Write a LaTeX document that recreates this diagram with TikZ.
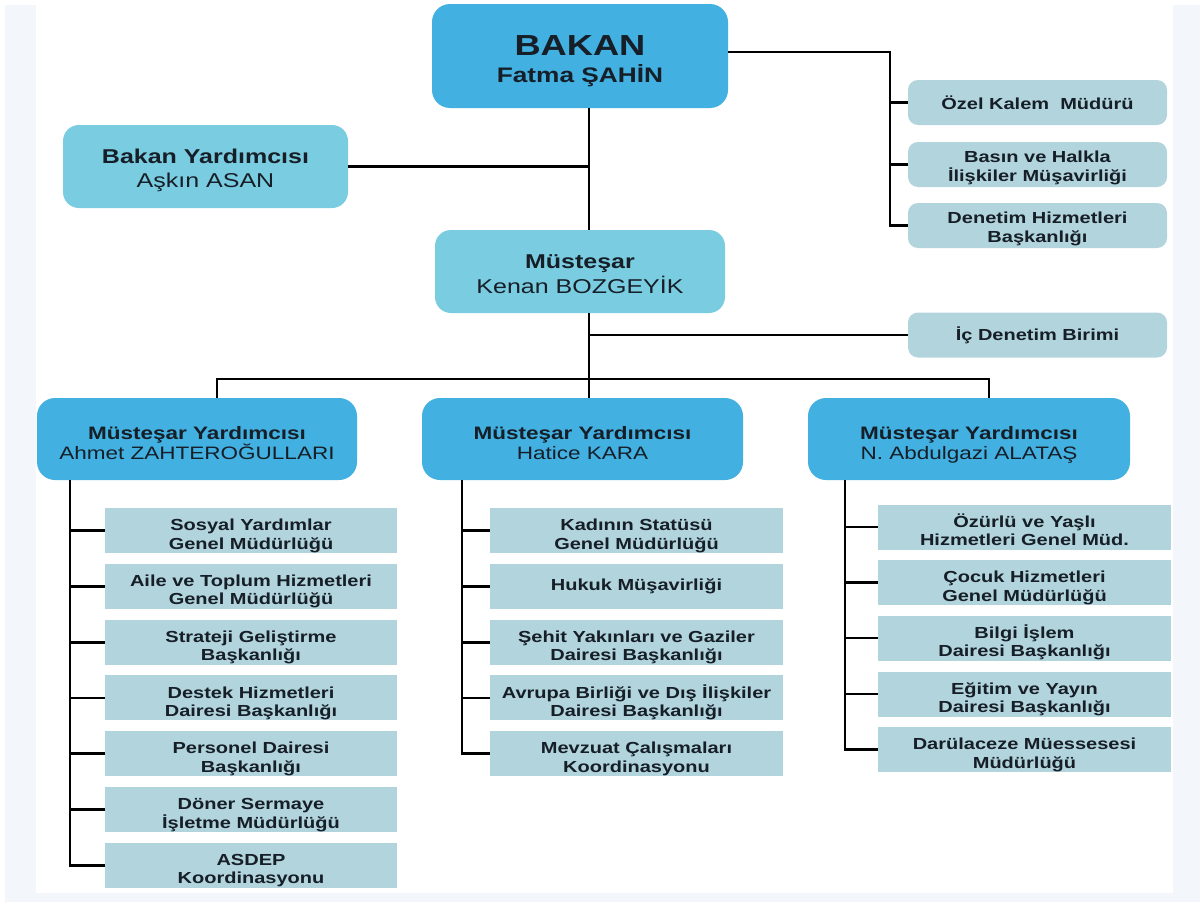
\documentclass[tikz,border=0pt]{standalone}
\usepackage{fontspec}
\setmainfont[FakeStretch=1.25]{Liberation Sans}
\definecolor{chiefblue}{RGB}{66,176,224}
\definecolor{lightcyan}{RGB}{122,205,225}
\definecolor{unitgrey}{RGB}{178,212,220}
\definecolor{pale}{RGB}{243,247,251}
\definecolor{txt}{RGB}{22,30,40}
% two-line text with fixed top strut (#1) and fixed bottom depth (#2)
\newcommand\twoln[4]{\rule{0pt}{#1pt}#3\\#4\rule[-#2pt]{0pt}{#2pt}}
\newcommand\ut[2]{\twoln{22.5}{3.8}{#1}{#2}}
\newcommand\at[2]{\twoln{20.5}{5.6}{#1}{#2}}
\begin{document}
\begin{tikzpicture}[x=1pt,y=-1pt,
  conn/.style={line width=2.8pt, draw=black, line join=miter},
  chief/.style={fill=chiefblue, rounded corners=18pt, inner sep=0pt, align=center, text=txt},
  deputy/.style={fill=lightcyan, rounded corners=16pt, inner sep=0pt, align=center, text=txt},
  myrd/.style={fill=chiefblue, rounded corners=18pt, inner sep=0pt, align=center, text=txt,
    minimum width=321pt, minimum height=82pt, font=\fontsize{18}{20}\selectfont},
  advisor/.style={fill=unitgrey, rounded corners=10pt, inner sep=0pt, align=center, text=txt,
    minimum width=259pt, minimum height=45pt, font=\bfseries\fontsize{16}{18.5}\selectfont},
  unit/.style={fill=unitgrey, inner sep=0pt, align=center, text=txt,
    minimum width=293pt, minimum height=45pt, font=\bfseries\fontsize{16}{18.5}\selectfont}
]
\useasboundingbox (0,0) rectangle (1200,902);
\fill[pale] (5,5) rectangle (1200,902);
\fill[white] (36,0) rectangle (1173,893);

% top level
\node[chief, minimum width=296pt, minimum height=104pt, font=\bfseries\fontsize{21}{27}\selectfont] (bakan) at (580,56)
  {\twoln{30}{5}{{\fontsize{29}{30}\selectfont BAKAN}}{Fatma ŞAHİN}};
\node[deputy, minimum width=285pt, minimum height=83pt, font=\fontsize{20}{24}\selectfont] (byrd) at (205.5,166.5)
  {\twoln{22}{5}{\textbf{Bakan Yardımcısı}}{Aşkın ASAN}};
\node[deputy, minimum width=290pt, minimum height=83pt, font=\fontsize{20}{25}\selectfont] (must) at (580,271.5)
  {\twoln{23}{5}{\textbf{Müsteşar}}{Kenan BOZGEYİK}};

% advisors on the right
\node[advisor] (ozel) at (1037.5,102.5) {Özel Kalem\ \ Müdürü};
\node[advisor] (basin) at (1037.5,164.5) {\at{Basın ve Halkla}{İlişkiler Müşavirliği}};
\node[advisor] (denet) at (1037.5,225.5) {\at{Denetim Hizmetleri}{Başkanlığı}};
\node[advisor] (icd) at (1037.5,335) {İç Denetim Birimi};

% deputy undersecretaries
\node[myrd, minimum width=320pt] (my1) at (197,439) {\twoln{26}{5}{\textbf{Müsteşar Yardımcısı}}{Ahmet ZAHTEROĞULLARI}};
\node[myrd] (my2) at (582.5,439) {\twoln{26}{5}{\textbf{Müsteşar Yardımcısı}}{Hatice KARA}};
\node[myrd, minimum width=322pt] (my3) at (969,439) {\twoln{26}{5}{\textbf{Müsteşar Yardımcısı}}{N. Abdulgazi ALATAŞ}};

% column 1
\node[unit, minimum width=292pt] (a1) at (251,530.5) {\ut{Sosyal Yardımlar}{Genel Müdürlüğü}};
\node[unit, minimum width=292pt] (a2) at (251,586.3) {\ut{Aile ve Toplum Hizmetleri}{Genel Müdürlüğü}};
\node[unit, minimum width=292pt] (a3) at (251,642.1) {\ut{Strateji Geliştirme}{Başkanlığı}};
\node[unit, minimum width=292pt] (a4) at (251,697.9) {\ut{Destek Hizmetleri}{Dairesi Başkanlığı}};
\node[unit, minimum width=292pt] (a5) at (251,753.7) {\ut{Personel Dairesi}{Başkanlığı}};
\node[unit, minimum width=292pt] (a6) at (251,809.5) {\ut{Döner Sermaye}{İşletme Müdürlüğü}};
\node[unit, minimum width=292pt] (a7) at (251,865.3) {\ut{ASDEP}{Koordinasyonu}};

% column 2
\node[unit] (b1) at (636.5,530.5) {\ut{Kadının Statüsü}{Genel Müdürlüğü}};
\node[unit] (b2) at (636.5,586.3) {Hukuk Müşavirliği};
\node[unit] (b3) at (636.5,642.1) {\ut{Şehit Yakınları ve Gaziler}{Dairesi Başkanlığı}};
\node[unit] (b4) at (636.5,697.9) {\ut{Avrupa Birliği ve Dış İlişkiler}{Dairesi Başkanlığı}};
\node[unit] (b5) at (636.5,753.7) {\ut{Mevzuat Çalışmaları}{Koordinasyonu}};

% column 3
\node[unit] (c1) at (1024.5,527) {\ut{Özürlü ve Yaşlı}{Hizmetleri Genel Müd.}};
\node[unit] (c2) at (1024.5,582.5) {\ut{Çocuk Hizmetleri}{Genel Müdürlüğü}};
\node[unit] (c3) at (1024.5,638) {\ut{Bilgi İşlem}{Dairesi Başkanlığı}};
\node[unit] (c4) at (1024.5,694) {\ut{Eğitim ve Yayın}{Dairesi Başkanlığı}};
\node[unit] (c5) at (1024.5,749.5) {\ut{Darülaceze Müessesesi}{Müdürlüğü}};

% helper coordinates
\coordinate (sx) at (589,0);
\coordinate (rx) at (890,52);
\coordinate (bus) at (589,379);
\coordinate (v1) at (217,379);
\coordinate (v3) at (989,379);
\coordinate (k1) at (70,0);
\coordinate (k2) at (462,0);
\coordinate (k3) at (845,0);

% connectors top
\draw[conn] (bakan.south -| sx) -- (must.north -| sx);
\draw[conn] (byrd.east) -- (byrd.east -| sx);
\draw[conn] (bakan.east |- rx) -- (rx) -- (rx |- denet.west) -- (denet.west);
\draw[conn] (rx |- ozel.west) -- (ozel.west);
\draw[conn] (rx |- basin.west) -- (basin.west);
\draw[conn] (must.south -| sx) -- (bus);
\draw[conn] (icd.west -| sx) -- (icd.west);
\draw[conn] (my1.north -| v1) -- (v1) -- (v3) -- (my3.north -| v3);
\draw[conn] (bus) -- (my2.north -| sx);

% columns
\draw[conn] (my1.south -| k1) -- (a7.west -| k1) -- (a7.west);
\foreach \n in {a1,a2,a3,a4,a5,a6} \draw[conn] (\n.west -| k1) -- (\n.west);
\draw[conn] (my2.south -| k2) -- (b5.west -| k2) -- (b5.west);
\foreach \n in {b1,b2,b3,b4} \draw[conn] (\n.west -| k2) -- (\n.west);
\draw[conn] (my3.south -| k3) -- (c5.west -| k3) -- (c5.west);
\foreach \n in {c1,c2,c3,c4} \draw[conn] (\n.west -| k3) -- (\n.west);
\end{tikzpicture}
\end{document}
